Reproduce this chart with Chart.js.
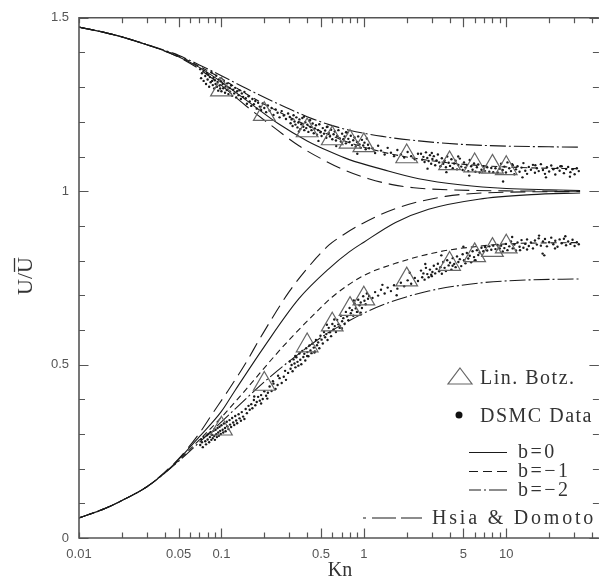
<!DOCTYPE html>
<html>
<head>
<meta charset="utf-8">
<script src="https://cdn.jsdelivr.net/npm/chart.js@4.4.1/dist/chart.umd.min.js"></script>
<style>
  body { margin: 0; background: #fff; }
</style>
</head>
<body>
<canvas id="chartcontainer" width="601" height="587"></canvas>
<script>
// axis ticks
const xTickValues = [0.01, 0.02, 0.03, 0.04, 0.05, 0.06, 0.07, 0.08, 0.09,
  0.1, 0.2, 0.3, 0.4, 0.5, 0.6, 0.7, 0.8, 0.9,
  1, 2, 3, 4, 5, 6, 7, 8, 9, 10, 20, 30, 40];
const xTickLabels = ['0.01', '', '', '', '0.05', '', '', '', '',
  '0.1', '', '', '', '0.5', '', '', '', '',
  '1', '', '', '', '5', '', '', '', '', '10', '', '', ''];
const xMajor = [0.05, 0.1, 0.5, 1, 5, 10];
const yTickValues = [0, 0.1, 0.2, 0.3, 0.4, 0.5, 0.6, 0.7, 0.8, 0.9, 1, 1.1, 1.2, 1.3, 1.4, 1.5];
const yTickLabels = ['0', '', '', '', '', '0.5', '', '', '', '', '1', '', '', '', '', '1.5'];
const yMajor = [0, 0.5, 1, 1.5];

// Lin. Botz. (triangles)
const lbKn = [0.1, 0.2, 0.4, 0.6, 0.8, 1, 2, 4, 6, 8, 10];
const lbUpper = [1.293, 1.222, 1.175, 1.152, 1.142, 1.132, 1.1, 1.08, 1.074, 1.07, 1.066];
const lbLower = [0.315, 0.444, 0.555, 0.615, 0.66, 0.69, 0.745, 0.79, 0.815, 0.83, 0.84];

// b = 0 (solid)
const b0UpperKn = [0.01, 0.015, 0.02, 0.03, 0.04, 0.05, 0.07, 0.1, 0.15, 0.25, 0.4, 0.57, 0.79, 1.35, 2.43, 4.9, 10, 20, 33];
const b0Upper = [1.473, 1.458, 1.445, 1.422, 1.404, 1.388, 1.357, 1.315, 1.262, 1.195, 1.145, 1.115, 1.091, 1.063, 1.036, 1.018, 1.008, 1.004, 1.002];
const b0LowerKn = [0.01, 0.015, 0.02, 0.03, 0.04, 0.05, 0.07, 0.1, 0.124, 0.2, 0.35, 0.57, 0.79, 1.0, 1.67, 2.85, 6.4, 15, 33];
const b0Lower = [0.058, 0.084, 0.108, 0.148, 0.188, 0.226, 0.292, 0.365, 0.424, 0.552, 0.69, 0.777, 0.825, 0.853, 0.91, 0.948, 0.977, 0.99, 0.995];

// b = -1 (dashed)
const b1UpperKn = [0.01, 0.015, 0.02, 0.03, 0.04, 0.05, 0.07, 0.1, 0.15, 0.25, 0.4, 0.57, 0.79, 1.35, 2.43, 4.9, 10, 20, 33];
const b1Upper = [1.473, 1.458, 1.445, 1.422, 1.405, 1.39, 1.36, 1.325, 1.28, 1.23, 1.19, 1.163, 1.14, 1.113, 1.093, 1.078, 1.07, 1.066, 1.065];
const b1LowerKn = [0.01, 0.015, 0.02, 0.03, 0.04, 0.05, 0.07, 0.1, 0.15, 0.24, 0.33, 0.46, 0.6, 0.98, 1.67, 3.35, 6, 10, 33];
const b1Lower = [0.058, 0.084, 0.108, 0.148, 0.188, 0.223, 0.283, 0.348, 0.43, 0.528, 0.59, 0.65, 0.695, 0.755, 0.792, 0.825, 0.84, 0.848, 0.852];

// b = -2 (dash-dot)
const b2UpperKn = [0.01, 0.015, 0.02, 0.03, 0.04, 0.05, 0.07, 0.1, 0.15, 0.25, 0.4, 0.57, 0.79, 1.35, 2.43, 4.9, 10, 20, 33];
const b2Upper = [1.473, 1.458, 1.445, 1.423, 1.406, 1.392, 1.364, 1.333, 1.296, 1.252, 1.215, 1.192, 1.176, 1.158, 1.145, 1.135, 1.13, 1.128, 1.127];
const b2LowerKn = [0.01, 0.015, 0.02, 0.03, 0.04, 0.05, 0.07, 0.1, 0.15, 0.2, 0.3, 0.5, 0.8, 1.35, 2.85, 6.4, 14, 33];
const b2Lower = [0.058, 0.084, 0.108, 0.148, 0.187, 0.221, 0.276, 0.335, 0.403, 0.45, 0.51, 0.578, 0.628, 0.672, 0.712, 0.735, 0.744, 0.747];

// Hsia & Domoto (long dash)
const hsiaUpperKn = [0.01, 0.015, 0.02, 0.03, 0.04, 0.05, 0.07, 0.1, 0.15, 0.22, 0.35, 0.5, 0.74, 1.08, 1.58, 2.24, 4, 10, 33];
const hsiaUpper = [1.473, 1.458, 1.445, 1.422, 1.404, 1.387, 1.352, 1.305, 1.245, 1.192, 1.131, 1.094, 1.06, 1.036, 1.019, 1.01, 1.004, 1.001, 1.0];
const hsiaLowerKn = [0.01, 0.015, 0.02, 0.03, 0.04, 0.05, 0.07, 0.087, 0.111, 0.15, 0.185, 0.3, 0.46, 0.57, 0.71, 0.98, 1.67, 3.74, 10, 33];
const hsiaLower = [0.058, 0.084, 0.108, 0.148, 0.19, 0.228, 0.302, 0.36, 0.424, 0.508, 0.573, 0.711, 0.806, 0.845, 0.873, 0.907, 0.95, 0.985, 0.997, 0.999];

// DSMC data, [Kn, U/Ubar]
const dsmcUpper = [
  [0.071,1.352],[0.072,1.326],[0.073,1.340],[0.075,1.318],[0.075,1.347],[0.077,1.332],[0.078,1.309],[0.079,1.341],[0.080,1.322],
  [0.081,1.336],[0.082,1.301],[0.083,1.329],[0.084,1.314],[0.085,1.343],[0.086,1.318],[0.087,1.306],[0.088,1.327],[0.089,1.296],
  [0.090,1.320],[0.091,1.309],[0.092,1.333],[0.093,1.301],[0.094,1.315],[0.095,1.290],[0.096,1.322],[0.097,1.305],[0.098,1.296],
  [0.099,1.317],[0.100,1.288],[0.102,1.309],[0.103,1.297],[0.104,1.318],[0.106,1.284],[0.107,1.302],[0.109,1.292],[0.110,1.311],
  [0.112,1.280],[0.114,1.298],[0.115,1.287],[0.117,1.305],[0.119,1.275],[0.121,1.293],[0.123,1.282],[0.125,1.298],[0.127,1.270],
  [0.129,1.288],[0.132,1.277],[0.134,1.291],[0.137,1.266],[0.139,1.282],[0.142,1.272],[0.145,1.286],
  [0.148,1.268],[0.151,1.252],[0.155,1.274],[0.158,1.259],[0.162,1.246],[0.165,1.266],[0.169,1.251],[0.173,1.260],[0.177,1.238],
  [0.181,1.255],[0.186,1.244],[0.19,1.234],[0.195,1.253],[0.2,1.240],[0.206,1.228],[0.212,1.247],[0.218,1.232],[0.225,1.240],
  [0.232,1.220],[0.24,1.236],[0.248,1.226],[0.256,1.213],[0.265,1.231],[0.274,1.218],[0.284,1.208],[0.294,1.224],
  [0.302,1.214],[0.306,1.196],[0.311,1.207],[0.316,1.188],[0.321,1.219],[0.326,1.201],[0.331,1.192],[0.336,1.213],[0.342,1.184],
  [0.347,1.198],[0.353,1.207],[0.358,1.179],[0.364,1.193],[0.37,1.211],[0.376,1.186],[0.382,1.176],[0.388,1.199],[0.394,1.182],
  [0.401,1.192],[0.408,1.171],[0.415,1.203],[0.422,1.185],[0.429,1.176],[0.437,1.195],[0.445,1.167],[0.453,1.181],[0.461,1.190],
  [0.469,1.163],[0.478,1.176],[0.487,1.193],[0.496,1.170],[0.505,1.159],[0.515,1.182],[0.525,1.166],[0.535,1.175],[0.545,1.154],
  [0.556,1.186],[0.567,1.168],[0.578,1.158],[0.589,1.177],[0.601,1.150],[0.613,1.164],[0.625,1.172],[0.637,1.146],[0.65,1.159],
  [0.663,1.176],[0.676,1.153],[0.69,1.143],[0.704,1.166],[0.718,1.150],[0.733,1.158],[0.748,1.138],[0.763,1.169],[0.778,1.151],
  [0.794,1.142],[0.81,1.160],[0.826,1.133],[0.843,1.147],[0.86,1.155],[0.877,1.129],[0.895,1.142],[0.913,1.158],[0.932,1.135],
  [0.951,1.125],[0.97,1.148],[0.99,1.132],[1.01,1.140],[1.03,1.121],[1.05,1.152],[1.07,1.134],[1.09,1.124],
  [0.35,1.172],[0.42,1.205],[0.55,1.185],[0.64,1.130],[0.75,1.170],[0.9,1.108],[0.48,1.145],[0.38,1.215],
  [1.15,1.124],[1.2,1.110],[1.26,1.131],[1.32,1.117],[1.4,1.106],[1.47,1.125],[1.55,1.111],[1.63,1.101],[1.72,1.119],
  [1.82,1.106],[1.92,1.097],[2.03,1.113],[2.15,1.101],[2.28,1.092],[2.4,1.108],
  [2.52,1.108],[2.57,1.091],[2.62,1.099],[2.67,1.084],[2.73,1.112],[2.79,1.096],[2.85,1.087],[2.91,1.104],[2.97,1.079],
  [3.03,1.093],[3.1,1.101],[3.17,1.075],[3.24,1.089],[3.31,1.106],[3.38,1.083],[3.45,1.072],[3.53,1.095],[3.61,1.079],
  [3.69,1.088],[3.77,1.069],[3.85,1.100],[3.94,1.082],[4.03,1.073],[4.12,1.092],[4.21,1.066],[4.31,1.080],[4.41,1.088],
  [4.51,1.063],[4.61,1.076],[4.72,1.094],[4.83,1.071],[4.94,1.061],[5.05,1.083],[5.17,1.068],[5.29,1.076],[5.41,1.058],
  [5.54,1.090],[5.67,1.072],[5.8,1.062],[5.94,1.080],[6.08,1.056],[6.22,1.069],[6.36,1.077],[6.5,1.054],
  [3.0,1.110],[3.8,1.055],[4.6,1.100],[5.5,1.045],[2.8,1.065],
  [6.7,1.062],[6.9,1.072],[7.1,1.058],[7.35,1.069],[7.6,1.056],[7.85,1.067],[8.1,1.055],[8.4,1.066],[8.7,1.054],[9.0,1.065],
  [9.2,1.079],[9.45,1.061],[9.7,1.071],[9.95,1.054],[10.2,1.083],[10.5,1.066],[10.8,1.058],[11.1,1.075],[11.4,1.049],
  [11.7,1.063],[12.0,1.072],[12.4,1.056],[12.8,1.068],[13.2,1.081],[13.6,1.059],[14.0,1.050],[14.4,1.070],[14.9,1.062],
  [15.4,1.076],[15.9,1.053],[16.4,1.066],[16.9,1.058],[17.5,1.078],[18.1,1.061],[18.7,1.050],[19.3,1.069],[20.0,1.057],
  [20.7,1.074],[21.4,1.063],[22.1,1.048],[22.9,1.067],[23.7,1.059],[24.5,1.072],[25.4,1.052],[26.3,1.064],[27.2,1.070],
  [28.2,1.055],[29.2,1.063],[30.2,1.049],[31.3,1.066],[32.3,1.058],
  [11,1.078],[13,1.040],[16,1.075],[19,1.040],[24,1.072],[28,1.042],[9.5,1.028]
];
const dsmcLower = [
  [0.071,0.268],[0.072,0.285],[0.073,0.276],[0.074,0.262],[0.075,0.291],[0.077,0.279],[0.078,0.270],[0.079,0.296],[0.080,0.284],
  [0.081,0.300],[0.082,0.276],[0.083,0.291],[0.084,0.305],[0.085,0.283],[0.086,0.297],[0.087,0.288],[0.088,0.309],[0.089,0.294],
  [0.090,0.283],[0.091,0.312],[0.092,0.299],[0.093,0.291],[0.094,0.317],[0.095,0.304],[0.096,0.295],[0.097,0.321],[0.098,0.309],
  [0.099,0.300],[0.100,0.325],[0.102,0.312],[0.103,0.304],[0.104,0.330],[0.106,0.317],[0.107,0.308],[0.109,0.335],[0.110,0.322],
  [0.112,0.314],[0.114,0.340],[0.115,0.327],[0.117,0.320],[0.119,0.346],[0.121,0.333],[0.123,0.326],[0.125,0.352],[0.127,0.339],
  [0.129,0.331],[0.132,0.357],[0.134,0.345],[0.137,0.338],[0.139,0.363],[0.142,0.350],[0.145,0.343],
  [0.148,0.372],[0.151,0.360],[0.155,0.381],[0.158,0.370],[0.162,0.386],[0.165,0.374],[0.169,0.398],[0.173,0.383],[0.177,0.392],
  [0.181,0.407],[0.186,0.396],[0.19,0.412],[0.195,0.401],[0.2,0.423],[0.206,0.410],[0.212,0.419],[0.218,0.437],[0.225,0.424],
  [0.232,0.445],[0.24,0.430],[0.248,0.441],[0.256,0.461],[0.265,0.447],[0.274,0.465],[0.284,0.456],[0.294,0.476],
  [0.17,0.408],[0.21,0.402],[0.25,0.468],[0.28,0.482],[0.23,0.452],[0.19,0.388],
  [0.302,0.509],[0.306,0.488],[0.311,0.499],[0.316,0.481],[0.321,0.515],[0.326,0.503],[0.331,0.492],[0.336,0.521],[0.342,0.508],
  [0.347,0.497],[0.353,0.532],[0.358,0.514],[0.364,0.501],[0.37,0.539],[0.376,0.522],[0.382,0.531],[0.388,0.512],[0.394,0.547],
  [0.401,0.536],[0.408,0.524],[0.415,0.555],[0.422,0.541],[0.429,0.533],[0.437,0.561],[0.445,0.549],[0.453,0.538],[0.461,0.571],
  [0.469,0.556],[0.478,0.564],[0.487,0.547],[0.496,0.583],[0.505,0.572],[0.515,0.561],[0.525,0.594],[0.535,0.579],[0.545,0.588],
  [0.556,0.571],[0.567,0.606],[0.578,0.593],[0.589,0.582],[0.601,0.617],[0.613,0.601],[0.625,0.611],[0.637,0.594],[0.65,0.629],
  [0.663,0.616],[0.676,0.606],[0.69,0.641],[0.704,0.625],[0.718,0.634],[0.733,0.617],[0.748,0.652],[0.763,0.639],[0.778,0.628],
  [0.794,0.663],[0.81,0.648],[0.826,0.657],[0.843,0.641],[0.86,0.676],[0.877,0.662],[0.895,0.652],[0.913,0.687],[0.932,0.671],
  [0.951,0.679],[0.97,0.663],[0.99,0.697],[1.01,0.684],[1.03,0.674],[1.05,0.705],[1.07,0.690],[1.09,0.698],
  [0.33,0.525],[0.45,0.535],[0.55,0.615],[0.7,0.605],[0.85,0.685],[0.95,0.650],[0.62,0.630],[0.4,0.525],
  [1.15,0.692],[1.2,0.709],[1.26,0.699],[1.32,0.716],[1.4,0.705],[1.47,0.722],[1.55,0.712],[1.63,0.729],[1.72,0.719],
  [1.82,0.736],[1.92,0.726],[2.03,0.743],[2.15,0.733],[2.28,0.750],[2.4,0.741],[1.35,0.730],[1.7,0.700],[2.1,0.765],
  [2.52,0.771],[2.57,0.752],[2.62,0.763],[2.67,0.745],[2.73,0.779],[2.79,0.761],[2.85,0.752],[2.91,0.774],[2.97,0.759],
  [3.03,0.767],[3.1,0.785],[3.17,0.763],[3.24,0.776],[3.31,0.791],[3.38,0.769],[3.45,0.781],[3.53,0.762],[3.61,0.796],
  [3.69,0.779],[3.77,0.770],[3.85,0.801],[3.94,0.786],[4.03,0.794],[4.12,0.774],[4.21,0.807],[4.31,0.790],[4.41,0.781],
  [4.51,0.812],[4.61,0.796],[4.72,0.804],[4.83,0.784],[4.94,0.818],[5.05,0.801],[5.17,0.792],[5.29,0.822],[5.41,0.806],
  [5.54,0.814],[5.67,0.795],[5.8,0.827],[5.94,0.810],[6.08,0.801],[6.22,0.830],[6.36,0.816],[6.5,0.823],
  [3.0,0.755],[3.5,0.815],[4.2,0.785],[5.0,0.840],[6.0,0.800],[2.7,0.790],
  [6.7,0.837],[6.9,0.827],[7.1,0.839],[7.35,0.829],[7.6,0.841],[7.85,0.831],[8.1,0.843],[8.4,0.833],[8.7,0.845],[9.0,0.835],
  [9.2,0.843],[9.45,0.826],[9.7,0.836],[9.95,0.848],[10.2,0.830],[10.5,0.841],[10.8,0.855],[11.1,0.835],[11.4,0.846],
  [11.7,0.829],[12.0,0.852],[12.4,0.840],[12.8,0.859],[13.2,0.837],[13.6,0.848],[14.0,0.861],[14.4,0.842],[14.9,0.852],
  [15.4,0.835],[15.9,0.858],[16.4,0.846],[16.9,0.864],[17.5,0.843],[18.1,0.855],[18.7,0.862],[19.3,0.841],[20.0,0.853],
  [20.7,0.866],[21.4,0.847],[22.1,0.857],[22.9,0.840],[23.7,0.861],[24.5,0.850],[25.4,0.863],[26.3,0.844],[27.2,0.855],
  [28.2,0.848],[29.2,0.860],[30.2,0.842],[31.3,0.853],[32.3,0.847],
  [11,0.868],[14,0.832],[17,0.872],[22,0.835],[26,0.870],[12.5,0.830],[18,0.820],[18.5,0.815]
];

const legendLabels = ['Lin. Botz.', 'DSMC Data', 'b=0', 'b=\u22121', 'b=\u22122', 'Hsia & Domoto'];

const lineColor = '#1a1a1a';
const dashB1 = [6, 4];
const dashB2 = [16, 3, 2, 3];
const dashHsia = [15, 7];

function xy(kn, u) {
  return kn.map((k, i) => ({ x: k, y: u[i] }));
}
function pairs(list) {
  return list.map(p => ({ x: p[0], y: p[1] }));
}
function curve(kn, u, dash) {
  return {
    data: xy(kn, u),
    showLine: true,
    borderColor: lineColor,
    borderWidth: 1.1,
    borderDash: dash,
    pointRadius: 0,
    cubicInterpolationMode: 'monotone',
    fill: false
  };
}
function triangles(kn, u) {
  return {
    data: xy(kn, u),
    pointStyle: 'triangle',
    pointRadius: 12.5,
    pointBorderColor: '#666',
    pointBackgroundColor: 'rgba(0,0,0,0)',
    pointBorderWidth: 1.2
  };
}
function dots(list) {
  return {
    data: pairs(list),
    pointRadius: 1.2,
    pointBackgroundColor: '#1a1a1a',
    pointBorderWidth: 0
  };
}

// frame, inward ticks, axis titles and legend
const decorations = {
  id: 'decorations',
  afterDraw(chart) {
    const { ctx, chartArea: a, scales: { x, y } } = chart;
    const right = a.right + 1;
    ctx.save();
    ctx.strokeStyle = '#555';
    ctx.lineWidth = 1.6;
    ctx.beginPath();
    ctx.moveTo(right, a.top);
    ctx.lineTo(a.left, a.top);
    ctx.lineTo(a.left, a.bottom);
    ctx.lineTo(right, a.bottom);
    ctx.stroke();
    ctx.lineWidth = 1.2;
    ctx.beginPath();
    xTickValues.forEach(v => {
      const px = Math.round(x.getPixelForValue(v)) + 0.5;
      const len = xMajor.includes(v) ? 9.5 : 5.5;
      ctx.moveTo(px, a.bottom); ctx.lineTo(px, a.bottom - len);
      ctx.moveTo(px, a.top); ctx.lineTo(px, a.top + len);
    });
    yTickValues.forEach(v => {
      const py = Math.round(y.getPixelForValue(v)) + 0.5;
      const len = yMajor.includes(v) ? 9.5 : 6;
      ctx.moveTo(a.left, py); ctx.lineTo(a.left + len, py);
      ctx.moveTo(right, py); ctx.lineTo(right - len, py);
    });
    ctx.stroke();

    // axis titles
    ctx.fillStyle = '#333';
    ctx.font = '20px "Liberation Serif"';
    ctx.textAlign = 'center';
    ctx.textBaseline = 'alphabetic';
    ctx.fillText('Kn', 340, 576);
    ctx.save();
    ctx.translate(32, 276);
    ctx.rotate(-Math.PI / 2);
    ctx.font = '22px "Liberation Serif"';
    const full = ctx.measureText('U/U').width;
    const last = ctx.measureText('U').width;
    ctx.fillText('U/U', 0, 0);
    ctx.lineWidth = 1.3;
    ctx.strokeStyle = '#333';
    ctx.beginPath();
    ctx.moveTo(full / 2 - last + 1, -17.5);
    ctx.lineTo(full / 2 - 1, -17.5);
    ctx.stroke();
    ctx.restore();

    // legend
    ctx.textAlign = 'left';
    ctx.font = '20px "Liberation Serif"';
    ctx.letterSpacing = '1.5px';
    ctx.strokeStyle = '#666';
    ctx.lineWidth = 1.2;
    ctx.beginPath();
    ctx.moveTo(460, 368);
    ctx.lineTo(472, 384);
    ctx.lineTo(448, 384);
    ctx.closePath();
    ctx.stroke();
    ctx.fillText(legendLabels[0], 480, 384);
    ctx.fillStyle = '#111';
    ctx.beginPath();
    ctx.arc(459, 415, 3.5, 0, Math.PI * 2);
    ctx.fill();
    ctx.fillStyle = '#333';
    ctx.fillText(legendLabels[1], 480, 422);
    ctx.letterSpacing = '2.5px';
    ctx.fillText(legendLabels[2], 518, 458);
    ctx.fillText(legendLabels[3], 518, 477);
    ctx.fillText(legendLabels[4], 518, 496);
    ctx.letterSpacing = '2.8px';
    ctx.fillText(legendLabels[5], 432, 524);
    ctx.strokeStyle = lineColor;
    ctx.lineWidth = 1.1;
    const seg = (x1, x2, yy, dash) => {
      ctx.setLineDash(dash);
      ctx.beginPath();
      ctx.moveTo(x1, yy);
      ctx.lineTo(x2, yy);
      ctx.stroke();
    };
    seg(469, 507, 452.5, []);
    seg(469, 507, 471.5, [9, 5, 9, 5, 10]);
    seg(469, 507, 490, [12, 3, 2, 3, 20]);
    seg(363, 422, 518, [3, 6, 24, 5, 24, 100]);
    ctx.restore();
  }
};

const options = {
  type: 'scatter',
  data: {
    datasets: [
      triangles(lbKn, lbUpper),
      triangles(lbKn, lbLower),
      dots(dsmcUpper),
      dots(dsmcLower),
      curve(b0UpperKn, b0Upper, []),
      curve(b0LowerKn, b0Lower, []),
      curve(b1UpperKn, b1Upper, dashB1),
      curve(b1LowerKn, b1Lower, dashB1),
      curve(b2UpperKn, b2Upper, dashB2),
      curve(b2LowerKn, b2Lower, dashB2),
      curve(hsiaUpperKn, hsiaUpper, dashHsia),
      curve(hsiaLowerKn, hsiaLower, dashHsia)
    ]
  },
  options: {
    responsive: false,
    animation: false,
    layout: { autoPadding: false, padding: { top: 15, right: 0, left: 0, bottom: 0 } },
    plugins: {
      legend: { display: false },
      tooltip: { enabled: false }
    },
    scales: {
      x: {
        type: 'logarithmic',
        min: 0.01,
        max: 44,
        grid: { display: false, drawTicks: false },
        border: { display: false },
        afterBuildTicks: s => { s.ticks = xTickValues.map(v => ({ value: v })); },
        afterFit: s => { s.height = 49; },
        ticks: {
          autoSkip: false,
          maxRotation: 0,
          padding: 9,
          color: '#555',
          font: { family: 'Liberation Sans', size: 13 },
          callback: (v, i) => xTickLabels[i]
        }
      },
      y: {
        min: 0,
        max: 1.5,
        grid: { display: false, drawTicks: false },
        border: { display: false },
        afterBuildTicks: s => { s.ticks = yTickValues.map(v => ({ value: v })); },
        afterFit: s => { s.width = 79; },
        ticks: {
          autoSkip: false,
          padding: 10,
          color: '#555',
          font: { family: 'Liberation Sans', size: 13 },
          callback: (v, i) => yTickLabels[i]
        }
      }
    }
  },
  plugins: [decorations]
};

const ctx = document.getElementById('chartcontainer').getContext('2d');
const chart = new Chart(ctx, options);
</script>
</body>
</html>
